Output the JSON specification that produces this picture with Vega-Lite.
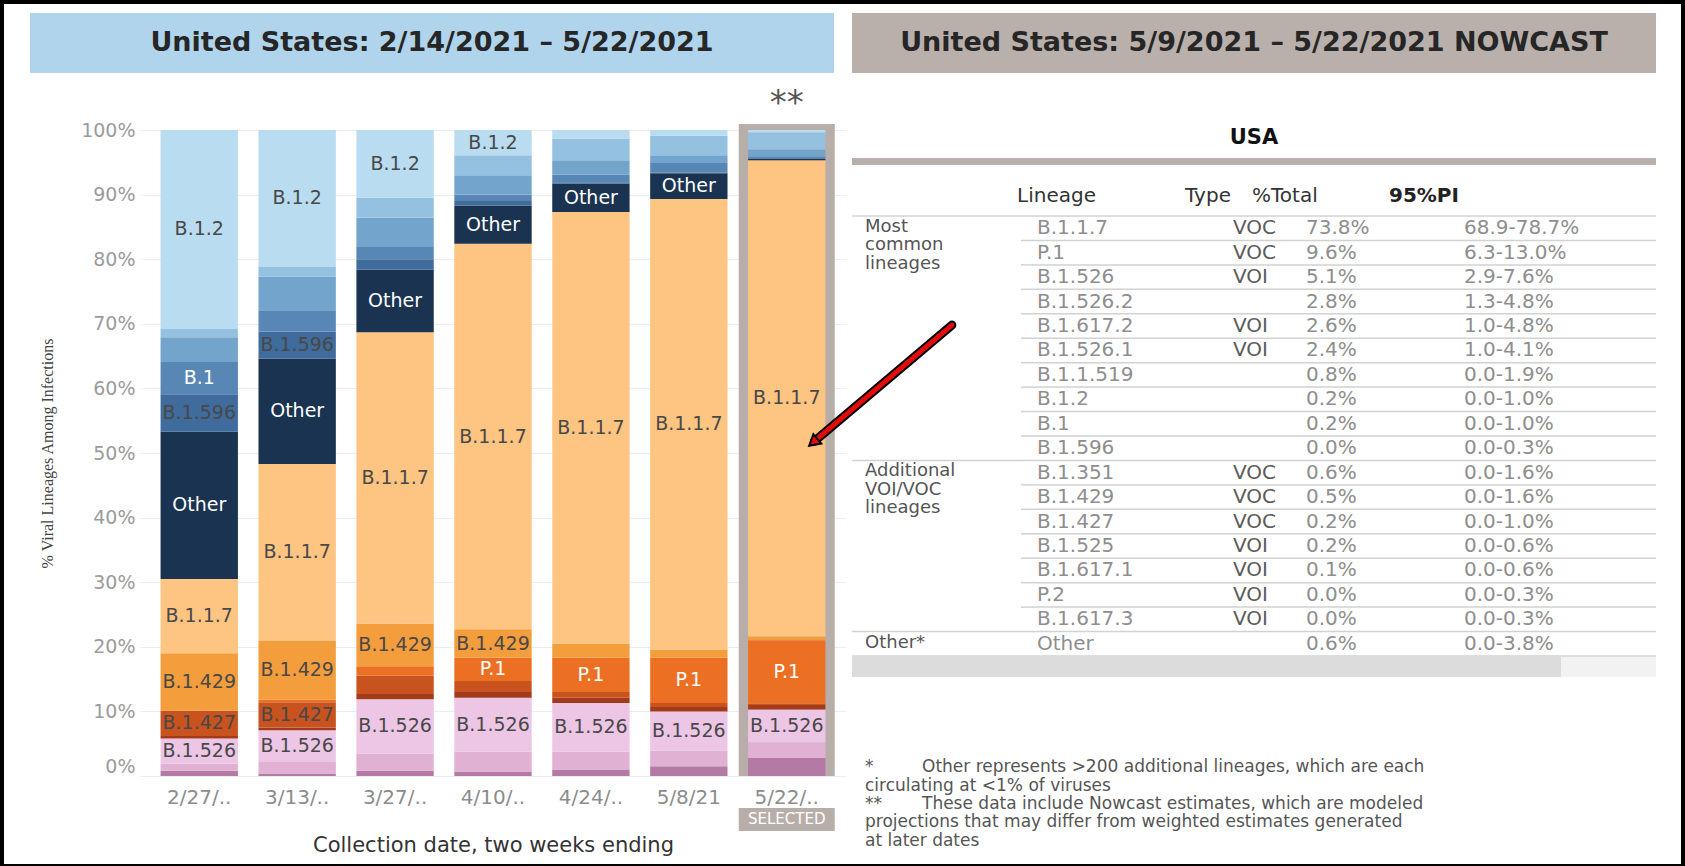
{
  "$schema": "https://vega.github.io/schema/vega-lite/v6.json",
  "padding": 0,
  "background": "white",
  "config": {"view": {"stroke": null}, "font": "DejaVu Sans"},
  "datasets": {
    "bars": [
      {"date": "2/27/21", "lineage": "B.1.526.2", "pct": 0.8}, {"date": "2/27/21", "lineage": "B.1.526.1", "pct": 1.1}, {"date": "2/27/21", "lineage": "B.1.526", "pct": 3.9}, {"date": "2/27/21", "lineage": "B.1.351", "pct": 0.4}, {"date": "2/27/21", "lineage": "B.1.427", "pct": 3.9}, {"date": "2/27/21", "lineage": "P.1", "pct": 0}, {"date": "2/27/21", "lineage": "B.1.429", "pct": 8.9}, {"date": "2/27/21", "lineage": "B.1.1.7", "pct": 11.5}, {"date": "2/27/21", "lineage": "Other", "pct": 22.8}, {"date": "2/27/21", "lineage": "B.1.596", "pct": 5.8}, {"date": "2/27/21", "lineage": "B.1", "pct": 5.0}, {"date": "2/27/21", "lineage": "B.1.243", "pct": 3.8}, {"date": "2/27/21", "lineage": "B.1.1.519", "pct": 1.3}, {"date": "2/27/21", "lineage": "B.1.2", "pct": 30.8},
      {"date": "3/13/21", "lineage": "B.1.526.2", "pct": 0.4}, {"date": "3/13/21", "lineage": "B.1.526.1", "pct": 1.9}, {"date": "3/13/21", "lineage": "B.1.526", "pct": 4.8}, {"date": "3/13/21", "lineage": "B.1.351", "pct": 0.4}, {"date": "3/13/21", "lineage": "B.1.427", "pct": 3.9}, {"date": "3/13/21", "lineage": "P.1", "pct": 0.4}, {"date": "3/13/21", "lineage": "B.1.429", "pct": 9.1}, {"date": "3/13/21", "lineage": "B.1.1.7", "pct": 27.4}, {"date": "3/13/21", "lineage": "Other", "pct": 16.3}, {"date": "3/13/21", "lineage": "B.1.596", "pct": 4.2}, {"date": "3/13/21", "lineage": "B.1", "pct": 3.3}, {"date": "3/13/21", "lineage": "B.1.243", "pct": 5.2}, {"date": "3/13/21", "lineage": "B.1.1.519", "pct": 1.5}, {"date": "3/13/21", "lineage": "B.1.2", "pct": 21.2},
      {"date": "3/27/21", "lineage": "B.1.526.2", "pct": 0.8}, {"date": "3/27/21", "lineage": "B.1.526.1", "pct": 2.7}, {"date": "3/27/21", "lineage": "B.1.526", "pct": 8.4}, {"date": "3/27/21", "lineage": "B.1.351", "pct": 0.8}, {"date": "3/27/21", "lineage": "B.1.427", "pct": 2.8}, {"date": "3/27/21", "lineage": "P.1", "pct": 1.5}, {"date": "3/27/21", "lineage": "B.1.429", "pct": 6.6}, {"date": "3/27/21", "lineage": "B.1.1.7", "pct": 45.1}, {"date": "3/27/21", "lineage": "Other", "pct": 9.7}, {"date": "3/27/21", "lineage": "B.1.596", "pct": 1.6}, {"date": "3/27/21", "lineage": "B.1", "pct": 1.9}, {"date": "3/27/21", "lineage": "B.1.243", "pct": 4.5}, {"date": "3/27/21", "lineage": "B.1.1.519", "pct": 3.1}, {"date": "3/27/21", "lineage": "B.1.2", "pct": 10.5},
      {"date": "4/10/21", "lineage": "B.1.526.2", "pct": 0.7}, {"date": "4/10/21", "lineage": "B.1.526.1", "pct": 3.1}, {"date": "4/10/21", "lineage": "B.1.526", "pct": 8.3}, {"date": "4/10/21", "lineage": "B.1.351", "pct": 0.9}, {"date": "4/10/21", "lineage": "B.1.427", "pct": 1.7}, {"date": "4/10/21", "lineage": "P.1", "pct": 3.6}, {"date": "4/10/21", "lineage": "B.1.429", "pct": 4.4}, {"date": "4/10/21", "lineage": "B.1.1.7", "pct": 59.7}, {"date": "4/10/21", "lineage": "Other", "pct": 5.9}, {"date": "4/10/21", "lineage": "B.1.596", "pct": 0.7}, {"date": "4/10/21", "lineage": "B.1", "pct": 1.0}, {"date": "4/10/21", "lineage": "B.1.243", "pct": 3.0}, {"date": "4/10/21", "lineage": "B.1.1.519", "pct": 3.1}, {"date": "4/10/21", "lineage": "B.1.2", "pct": 3.9},
      {"date": "4/24/21", "lineage": "B.1.526.2", "pct": 1.0}, {"date": "4/24/21", "lineage": "B.1.526.1", "pct": 2.8}, {"date": "4/24/21", "lineage": "B.1.526", "pct": 7.5}, {"date": "4/24/21", "lineage": "B.1.351", "pct": 0.8}, {"date": "4/24/21", "lineage": "B.1.427", "pct": 0.9}, {"date": "4/24/21", "lineage": "P.1", "pct": 5.3}, {"date": "4/24/21", "lineage": "B.1.429", "pct": 2.2}, {"date": "4/24/21", "lineage": "B.1.1.7", "pct": 66.8}, {"date": "4/24/21", "lineage": "Other", "pct": 4.4}, {"date": "4/24/21", "lineage": "B.1.596", "pct": 0.2}, {"date": "4/24/21", "lineage": "B.1", "pct": 1.2}, {"date": "4/24/21", "lineage": "B.1.243", "pct": 2.2}, {"date": "4/24/21", "lineage": "B.1.1.519", "pct": 3.4}, {"date": "4/24/21", "lineage": "B.1.2", "pct": 1.3},
      {"date": "5/8/21", "lineage": "B.1.526.2", "pct": 1.5}, {"date": "5/8/21", "lineage": "B.1.526.1", "pct": 2.4}, {"date": "5/8/21", "lineage": "B.1.526", "pct": 6.1}, {"date": "5/8/21", "lineage": "B.1.351", "pct": 0.7}, {"date": "5/8/21", "lineage": "B.1.427", "pct": 0.6}, {"date": "5/8/21", "lineage": "P.1", "pct": 7.0}, {"date": "5/8/21", "lineage": "B.1.429", "pct": 1.3}, {"date": "5/8/21", "lineage": "B.1.1.7", "pct": 69.7}, {"date": "5/8/21", "lineage": "Other", "pct": 4.0}, {"date": "5/8/21", "lineage": "B.1.596", "pct": 0.1}, {"date": "5/8/21", "lineage": "B.1", "pct": 1.5}, {"date": "5/8/21", "lineage": "B.1.243", "pct": 1.2}, {"date": "5/8/21", "lineage": "B.1.1.519", "pct": 3.0}, {"date": "5/8/21", "lineage": "B.1.2", "pct": 0.9},
      {"date": "5/22/21", "lineage": "B.1.526.2", "pct": 2.8}, {"date": "5/22/21", "lineage": "B.1.526.1", "pct": 2.4}, {"date": "5/22/21", "lineage": "B.1.526", "pct": 5.1}, {"date": "5/22/21", "lineage": "B.1.351", "pct": 0.7}, {"date": "5/22/21", "lineage": "B.1.427", "pct": 0.2}, {"date": "5/22/21", "lineage": "P.1", "pct": 9.8}, {"date": "5/22/21", "lineage": "B.1.429", "pct": 0.6}, {"date": "5/22/21", "lineage": "B.1.1.7", "pct": 73.7}, {"date": "5/22/21", "lineage": "Other", "pct": 0.2}, {"date": "5/22/21", "lineage": "B.1.596", "pct": 0.0}, {"date": "5/22/21", "lineage": "B.1", "pct": 0.4}, {"date": "5/22/21", "lineage": "B.1.243", "pct": 1.1}, {"date": "5/22/21", "lineage": "B.1.1.519", "pct": 2.6}, {"date": "5/22/21", "lineage": "B.1.2", "pct": 0.4}
    ],
    "table": [
      {"group": "Most common lineages", "lineage": "B.1.1.7", "type": "VOC", "total": "73.8%", "pi": "68.9-78.7%"},
      {"group": "", "lineage": "P.1", "type": "VOC", "total": "9.6%", "pi": "6.3-13.0%"},
      {"group": "", "lineage": "B.1.526", "type": "VOI", "total": "5.1%", "pi": "2.9-7.6%"},
      {"group": "", "lineage": "B.1.526.2", "type": "", "total": "2.8%", "pi": "1.3-4.8%"},
      {"group": "", "lineage": "B.1.617.2", "type": "VOI", "total": "2.6%", "pi": "1.0-4.8%"},
      {"group": "", "lineage": "B.1.526.1", "type": "VOI", "total": "2.4%", "pi": "1.0-4.1%"},
      {"group": "", "lineage": "B.1.1.519", "type": "", "total": "0.8%", "pi": "0.0-1.9%"},
      {"group": "", "lineage": "B.1.2", "type": "", "total": "0.2%", "pi": "0.0-1.0%"},
      {"group": "", "lineage": "B.1", "type": "", "total": "0.2%", "pi": "0.0-1.0%"},
      {"group": "", "lineage": "B.1.596", "type": "", "total": "0.0%", "pi": "0.0-0.3%"},
      {"group": "Additional VOI/VOC lineages", "lineage": "B.1.351", "type": "VOC", "total": "0.6%", "pi": "0.0-1.6%"},
      {"group": "", "lineage": "B.1.429", "type": "VOC", "total": "0.5%", "pi": "0.0-1.6%"},
      {"group": "", "lineage": "B.1.427", "type": "VOC", "total": "0.2%", "pi": "0.0-1.0%"},
      {"group": "", "lineage": "B.1.525", "type": "VOI", "total": "0.2%", "pi": "0.0-0.6%"},
      {"group": "", "lineage": "B.1.617.1", "type": "VOI", "total": "0.1%", "pi": "0.0-0.6%"},
      {"group": "", "lineage": "P.2", "type": "VOI", "total": "0.0%", "pi": "0.0-0.3%"},
      {"group": "", "lineage": "B.1.617.3", "type": "VOI", "total": "0.0%", "pi": "0.0-0.3%"},
      {"group": "Other*", "lineage": "Other", "type": "", "total": "0.6%", "pi": "0.0-3.8%"}
    ],
    "notes": [
      {"line": 1, "col": "mark", "text": "*"},
      {"line": 1, "col": "body", "text": "Other represents >200 additional lineages, which are each"},
      {"line": 2, "col": "mark", "text": "circulating at <1% of viruses"},
      {"line": 3, "col": "mark", "text": "**"},
      {"line": 3, "col": "body", "text": "These data include Nowcast estimates, which are modeled"},
      {"line": 4, "col": "mark", "text": "projections that may differ from weighted estimates generated"},
      {"line": 5, "col": "mark", "text": "at later dates"}
    ]
  },
  "spacing": 0,
  "bounds": "full",
  "hconcat": [
    {"width": 4, "height": 866, "view": {"fill": "#000000", "stroke": null}, "data": {"values": []}, "mark": "rect", "encoding": {}},
    {
      "spacing": 0,
      "bounds": "full",
      "vconcat": [
        {"width": 1677, "height": 4, "view": {"fill": "#000000", "stroke": null}, "data": {"values": []}, "mark": "rect", "encoding": {}},
        {"width": 1, "height": 9, "data": {"values": []}, "mark": "rect", "encoding": {}},
        {
          "spacing": 0,
          "bounds": "flush",
          "hconcat": [
            {"width": 26, "height": 60, "data": {"values": []}, "mark": "rect", "encoding": {}},
            {"width": 804, "height": 60, "view": {"fill": "#afd4eb", "stroke": null}, "data": {"values": [{"t": "United States: 2/14/2021 – 5/22/2021"}]}, "mark": {"type": "text", "fontSize": 27, "fontWeight": "bold", "color": "#262626"}, "encoding": {"text": {"field": "t"}}},
            {"width": 18, "height": 60, "data": {"values": []}, "mark": "rect", "encoding": {}},
            {"width": 804, "height": 60, "view": {"fill": "#b9afab", "stroke": null}, "data": {"values": [{"t": "United States: 5/9/2021 – 5/22/2021 NOWCAST"}]}, "mark": {"type": "text", "fontSize": 27, "fontWeight": "bold", "color": "#262626"}, "encoding": {"text": {"field": "t"}}},
            {"width": 25, "height": 60, "data": {"values": []}, "mark": "rect", "encoding": {}}
          ]
        },
        {"width": 1, "height": 7, "data": {"values": []}, "mark": "rect", "encoding": {}},
        {
          "spacing": 0,
          "bounds": "flush",
          "hconcat": [
            {"width": 136, "height": 696, "data": {"values": []}, "mark": "rect", "encoding": {}},
            {
              "width": 706,
              "height": 696,
              "resolve": {"scale": {"x": "independent"}},
              "layer": [
                {
                  "encoding": {
                    "x": {
                      "field": "date", "type": "nominal",
                      "scale": {"domain": ["2/27/21", "3/13/21", "3/27/21", "4/10/21", "4/24/21", "5/8/21", "5/22/21"], "paddingInner": 0.21, "paddingOuter": 0.21},
                      "axis": {"labelAngle": 0, "labelExpr": "length(datum.value) > 6 ? slice(datum.value, 0, 5) + '..' : datum.value", "labelFont": "DejaVu Sans", "labelFontSize": 20, "labelColor": "#8c8c8c", "labelPadding": 11, "ticks": false, "domain": false, "title": "Collection date, two weeks ending", "titleFont": "DejaVu Sans", "titleFontSize": 21, "titleFontWeight": "normal", "titleColor": "#333333", "titlePadding": 27}
                    }
                  },
                  "layer": [
                    {
                      "data": {"values": [{"date": "5/22/21"}]},
                      "mark": {"type": "bar", "color": "#b8aea9", "width": {"band": 1.241}},
                      "encoding": {
                        "y": {"datum": 0, "type": "quantitative", "scale": {"domain": [0, 107.74], "nice": false, "zero": false},
                          "axis": {"values": [0, 10, 20, 30, 40, 50, 60, 70, 80, 90, 100], "labelExpr": "datum.value + '%'", "labelFont": "DejaVu Sans", "labelFontSize": 19, "labelColor": "#9b9b9b", "labelPadding": 5, "labelFlush": true, "ticks": false, "domain": false, "grid": true, "gridColor": "#ececec", "title": "% Viral Lineages Among Infections", "titleFont": "Liberation Serif", "titleFontSize": 16, "titleFontWeight": "normal", "titleColor": "#444444", "titlePadding": 25, "titleY": 373}},
                        "y2": {"datum": 100.93}
                      }
                    },
                    {
                      "data": {"name": "bars"},
                      "transform": [
                        {"calculate": "indexof(['B.1.526.2','B.1.526.1','B.1.526','B.1.351','B.1.427','P.1','B.1.429','B.1.1.7','Other','B.1.596','B.1','B.1.243','B.1.1.519','B.1.2'], datum.lineage)", "as": "k"},
                        {"stack": "pct", "groupby": ["date"], "sort": [{"field": "k", "order": "ascending"}], "as": ["y0", "y1"]}
                      ],
                      "mark": {"type": "bar"},
                      "encoding": {
                        "y": {"field": "y0", "type": "quantitative", "scale": {"domain": [0, 107.74], "nice": false, "zero": false},
                          "axis": {"values": [0, 10, 20, 30, 40, 50, 60, 70, 80, 90, 100], "labelExpr": "datum.value + '%'", "labelFont": "DejaVu Sans", "labelFontSize": 19, "labelColor": "#9b9b9b", "labelPadding": 5, "labelFlush": true, "ticks": false, "domain": false, "grid": true, "gridColor": "#ececec", "title": "% Viral Lineages Among Infections", "titleFont": "Liberation Serif", "titleFontSize": 16, "titleFontWeight": "normal", "titleColor": "#444444", "titlePadding": 25, "titleY": 373}},
                        "y2": {"field": "y1"},
                        "color": {"field": "lineage", "type": "nominal", "legend": null,
                          "scale": {"domain": ["B.1.526.2", "B.1.526.1", "B.1.526", "B.1.351", "B.1.427", "P.1", "B.1.429", "B.1.1.7", "Other", "B.1.596", "B.1", "B.1.243", "B.1.1.519", "B.1.2"],
                            "range": ["#b47aa5", "#e0b1d2", "#edc6e5", "#a33a1a", "#c8531f", "#ec7023", "#f39d3d", "#fec481", "#1a3350", "#3f6c9d", "#5887b6", "#73a4cb", "#95c1e0", "#badcf0"]}}
                      }
                    },
                    {
                      "data": {"name": "bars"},
                      "transform": [
                        {"calculate": "indexof(['B.1.526.2','B.1.526.1','B.1.526','B.1.351','B.1.427','P.1','B.1.429','B.1.1.7','Other','B.1.596','B.1','B.1.243','B.1.1.519','B.1.2'], datum.lineage)", "as": "k"},
                        {"stack": "pct", "groupby": ["date"], "sort": [{"field": "k", "order": "ascending"}], "as": ["y0", "y1"]},
                        {"filter": "indexof(['B.1.2','B.1','B.1.596','Other','B.1.1.7','B.1.429','B.1.427','P.1','B.1.526'], datum.lineage) >= 0 && datum.pct >= 3.5"},
                        {"calculate": "(datum.y0 + datum.y1) / 2", "as": "mid"}
                      ],
                      "mark": {"type": "text", "fontSize": 19, "font": "DejaVu Sans"},
                      "encoding": {
                        "y": {"field": "mid", "type": "quantitative", "scale": {"domain": [0, 107.74], "nice": false, "zero": false},
                          "axis": {"values": [0, 10, 20, 30, 40, 50, 60, 70, 80, 90, 100], "labelExpr": "datum.value + '%'", "labelFont": "DejaVu Sans", "labelFontSize": 19, "labelColor": "#9b9b9b", "labelPadding": 5, "labelFlush": true, "ticks": false, "domain": false, "grid": true, "gridColor": "#ececec", "title": "% Viral Lineages Among Infections", "titleFont": "Liberation Serif", "titleFontSize": 16, "titleFontWeight": "normal", "titleColor": "#444444", "titlePadding": 25, "titleY": 373}},
                        "text": {"field": "lineage"},
                        "color": {"condition": {"test": "indexof(['Other','B.1','P.1'], datum.lineage) >= 0", "value": "#ffffff"}, "value": "#484848"}
                      }
                    },
                    {
                      "data": {"values": [{"date": "5/22/21"}]},
                      "mark": {"type": "text", "text": "**", "fontSize": 34, "color": "#555555", "baseline": "alphabetic"},
                      "encoding": {"y": {"datum": 102.4, "type": "quantitative", "scale": {"domain": [0, 107.74], "nice": false, "zero": false},
                          "axis": {"values": [0, 10, 20, 30, 40, 50, 60, 70, 80, 90, 100], "labelExpr": "datum.value + '%'", "labelFont": "DejaVu Sans", "labelFontSize": 19, "labelColor": "#9b9b9b", "labelPadding": 5, "labelFlush": true, "ticks": false, "domain": false, "grid": true, "gridColor": "#ececec", "title": "% Viral Lineages Among Infections", "titleFont": "Liberation Serif", "titleFontSize": 16, "titleFontWeight": "normal", "titleColor": "#444444", "titlePadding": 25, "titleY": 373}}}
                    },
                    {
                      "data": {"values": [{"date": "5/22/21"}]},
                      "mark": {"type": "bar", "color": "#b8aea9", "width": {"band": 1.241}},
                      "encoding": {"y": {"datum": -4.95, "type": "quantitative", "scale": {"domain": [0, 107.74], "nice": false, "zero": false},
                          "axis": {"values": [0, 10, 20, 30, 40, 50, 60, 70, 80, 90, 100], "labelExpr": "datum.value + '%'", "labelFont": "DejaVu Sans", "labelFontSize": 19, "labelColor": "#9b9b9b", "labelPadding": 5, "labelFlush": true, "ticks": false, "domain": false, "grid": true, "gridColor": "#ececec", "title": "% Viral Lineages Among Infections", "titleFont": "Liberation Serif", "titleFontSize": 16, "titleFontWeight": "normal", "titleColor": "#444444", "titlePadding": 25, "titleY": 373}},
                        "y2": {"datum": -8.51}}
                    },
                    {
                      "data": {"values": [{"date": "5/22/21"}]},
                      "mark": {"type": "text", "text": "SELECTED", "fontSize": 15, "color": "#ffffff"},
                      "encoding": {"y": {"datum": -6.73, "type": "quantitative", "scale": {"domain": [0, 107.74], "nice": false, "zero": false},
                          "axis": {"values": [0, 10, 20, 30, 40, 50, 60, 70, 80, 90, 100], "labelExpr": "datum.value + '%'", "labelFont": "DejaVu Sans", "labelFontSize": 19, "labelColor": "#9b9b9b", "labelPadding": 5, "labelFlush": true, "ticks": false, "domain": false, "grid": true, "gridColor": "#ececec", "title": "% Viral Lineages Among Infections", "titleFont": "Liberation Serif", "titleFontSize": 16, "titleFontWeight": "normal", "titleColor": "#444444", "titlePadding": 25, "titleY": 373}}}
                    }
                  ]
                },
                {
                  "data": {"values": [{}]},
                  "layer": [
                    {
                      "mark": {"type": "rule", "color": "#000000", "strokeWidth": 9, "strokeCap": "round"},
                      "encoding": {
                        "x": {"datum": 115.0, "type": "quantitative", "scale": {"domain": [0, 100], "nice": false, "zero": false}, "axis": null},
                        "x2": {"datum": 95.55},
                        "y": {"datum": 69.8, "type": "quantitative", "scale": {"domain": [0, 107.74], "nice": false, "zero": false},
                          "axis": {"values": [0, 10, 20, 30, 40, 50, 60, 70, 80, 90, 100], "labelExpr": "datum.value + '%'", "labelFont": "DejaVu Sans", "labelFontSize": 19, "labelColor": "#9b9b9b", "labelPadding": 5, "labelFlush": true, "ticks": false, "domain": false, "grid": true, "gridColor": "#ececec", "title": "% Viral Lineages Among Infections", "titleFont": "Liberation Serif", "titleFontSize": 16, "titleFontWeight": "normal", "titleColor": "#444444", "titlePadding": 25, "titleY": 373}},
                        "y2": {"datum": 51.84}
                      }
                    },
                    {
                      "mark": {"type": "rule", "color": "#e30c0c", "strokeWidth": 5, "strokeCap": "round"},
                      "encoding": {
                        "x": {"datum": 115.0, "type": "quantitative", "scale": {"domain": [0, 100], "nice": false, "zero": false}, "axis": null},
                        "x2": {"datum": 95.55},
                        "y": {"datum": 69.8, "type": "quantitative", "scale": {"domain": [0, 107.74], "nice": false, "zero": false},
                          "axis": {"values": [0, 10, 20, 30, 40, 50, 60, 70, 80, 90, 100], "labelExpr": "datum.value + '%'", "labelFont": "DejaVu Sans", "labelFontSize": 19, "labelColor": "#9b9b9b", "labelPadding": 5, "labelFlush": true, "ticks": false, "domain": false, "grid": true, "gridColor": "#ececec", "title": "% Viral Lineages Among Infections", "titleFont": "Liberation Serif", "titleFontSize": 16, "titleFontWeight": "normal", "titleColor": "#444444", "titlePadding": 25, "titleY": 373}},
                        "y2": {"datum": 51.84}
                      }
                    },
                    {
                      "mark": {"type": "point", "shape": "triangle", "filled": true, "fill": "#e30c0c", "stroke": "#000000", "strokeWidth": 2, "size": 150, "angle": 230, "opacity": 1},
                      "encoding": {
                        "x": {"datum": 95.55, "type": "quantitative", "scale": {"domain": [0, 100], "nice": false, "zero": false}, "axis": null},
                        "y": {"datum": 51.84, "type": "quantitative", "scale": {"domain": [0, 107.74], "nice": false, "zero": false},
                          "axis": {"values": [0, 10, 20, 30, 40, 50, 60, 70, 80, 90, 100], "labelExpr": "datum.value + '%'", "labelFont": "DejaVu Sans", "labelFontSize": 19, "labelColor": "#9b9b9b", "labelPadding": 5, "labelFlush": true, "ticks": false, "domain": false, "grid": true, "gridColor": "#ececec", "title": "% Viral Lineages Among Infections", "titleFont": "Liberation Serif", "titleFontSize": 16, "titleFontWeight": "normal", "titleColor": "#444444", "titlePadding": 25, "titleY": 373}}
                      }
                    }
                  ]
                }
              ]
            },
            {"width": 6, "height": 696, "data": {"values": []}, "mark": "rect", "encoding": {}},
            {
              "spacing": 0,
              "bounds": "full",
              "vconcat": [
                {"width": 1, "height": 44, "data": {"values": []}, "mark": "rect", "encoding": {}},
                {"width": 804, "height": 28, "data": {"values": [{"t": "USA"}]}, "mark": {"type": "text", "fontSize": 21, "fontWeight": "bold", "color": "#111111"}, "encoding": {"text": {"field": "t"}}},
                {"width": 1, "height": 6, "data": {"values": []}, "mark": "rect", "encoding": {}},
                {"width": 804, "height": 7, "view": {"fill": "#b9afab", "stroke": null}, "data": {"values": []}, "mark": "rect", "encoding": {}},
                {
                  "spacing": 0,
                  "bounds": "flush",
                  "hconcat": [
                    {"width": 165, "height": 50, "data": {"values": []}, "mark": "rect", "encoding": {}},
                    {"width": 168, "height": 50, "data": {"values": [{"t": "Lineage"}]}, "mark": {"type": "text", "align": "left", "fontSize": 20, "color": "#333333", "dy": 6}, "encoding": {"x": {"datum": "c", "type": "nominal", "scale": {"type": "band", "paddingInner": 0, "paddingOuter": 0}, "bandPosition": 0, "axis": null}, "text": {"field": "t"}}},
                    {"width": 67, "height": 50, "data": {"values": [{"t": "Type"}]}, "mark": {"type": "text", "align": "left", "fontSize": 20, "color": "#333333", "dy": 6}, "encoding": {"x": {"datum": "c", "type": "nominal", "scale": {"type": "band", "paddingInner": 0, "paddingOuter": 0}, "bandPosition": 0, "axis": null}, "text": {"field": "t"}}},
                    {"width": 137, "height": 50, "data": {"values": [{"t": "%Total"}]}, "mark": {"type": "text", "align": "left", "fontSize": 20, "color": "#333333", "dy": 6}, "encoding": {"x": {"datum": "c", "type": "nominal", "scale": {"type": "band", "paddingInner": 0, "paddingOuter": 0}, "bandPosition": 0, "axis": null}, "text": {"field": "t"}}},
                    {"width": 267, "height": 50, "data": {"values": [{"t": "95%PI"}]}, "mark": {"type": "text", "align": "left", "fontSize": 20, "fontWeight": "bold", "color": "#222222", "dy": 6}, "encoding": {"x": {"datum": "c", "type": "nominal", "scale": {"type": "band", "paddingInner": 0, "paddingOuter": 0}, "bandPosition": 0, "axis": null}, "text": {"field": "t"}}}
                  ]
                },
                {
                  "spacing": 0,
                  "bounds": "flush",
                  "hconcat": [
                    {
                      "width": 169, "height": 440, "data": {"name": "table"},
                      "layer": [
                        {"transform": [{"filter": "datum.group != ''"}], "mark": {"type": "rule", "color": "#d2d2d2", "strokeWidth": 1.5}, "encoding": {"y": {"field": "lineage", "type": "nominal", "bandPosition": 0, "axis": null, "scale": {"type": "band", "paddingInner": 0, "paddingOuter": 0, "domain": ["B.1.1.7", "P.1", "B.1.526", "B.1.526.2", "B.1.617.2", "B.1.526.1", "B.1.1.519", "B.1.2", "B.1", "B.1.596", "B.1.351", "B.1.429", "B.1.427", "B.1.525", "B.1.617.1", "P.2", "B.1.617.3", "Other"]}}}},
                        {"transform": [{"filter": "datum.lineage == 'Other'"}], "mark": {"type": "rule", "color": "#d2d2d2", "strokeWidth": 1.5}, "encoding": {"y": {"field": "lineage", "type": "nominal", "bandPosition": 1, "axis": null, "scale": {"type": "band", "paddingInner": 0, "paddingOuter": 0, "domain": ["B.1.1.7", "P.1", "B.1.526", "B.1.526.2", "B.1.617.2", "B.1.526.1", "B.1.1.519", "B.1.2", "B.1", "B.1.596", "B.1.351", "B.1.429", "B.1.427", "B.1.525", "B.1.617.1", "P.2", "B.1.617.3", "Other"]}}}},
                        {"transform": [{"filter": "datum.group != ''"}], "mark": {"type": "text", "align": "left", "baseline": "top", "lineBreak": " ", "lineHeight": 18.4, "fontSize": 18, "color": "#555555", "dx": 13, "dy": 2},
                          "encoding": {"x": {"datum": "c", "type": "nominal", "scale": {"type": "band", "paddingInner": 0, "paddingOuter": 0}, "bandPosition": 0, "axis": null}, "y": {"field": "lineage", "type": "nominal", "bandPosition": 0, "axis": null, "scale": {"type": "band", "paddingInner": 0, "paddingOuter": 0, "domain": ["B.1.1.7", "P.1", "B.1.526", "B.1.526.2", "B.1.617.2", "B.1.526.1", "B.1.1.519", "B.1.2", "B.1", "B.1.596", "B.1.351", "B.1.429", "B.1.427", "B.1.525", "B.1.617.1", "P.2", "B.1.617.3", "Other"]}}, "text": {"field": "group"}}}
                      ]
                    },
                    {
                      "width": 16, "height": 440, "data": {"name": "table"},
                      "layer": [
                        {"mark": {"type": "rule", "color": "#d2d2d2", "strokeWidth": 1.5}, "encoding": {"y": {"field": "lineage", "type": "nominal", "bandPosition": 0, "axis": null, "scale": {"type": "band", "paddingInner": 0, "paddingOuter": 0, "domain": ["B.1.1.7", "P.1", "B.1.526", "B.1.526.2", "B.1.617.2", "B.1.526.1", "B.1.1.519", "B.1.2", "B.1", "B.1.596", "B.1.351", "B.1.429", "B.1.427", "B.1.525", "B.1.617.1", "P.2", "B.1.617.3", "Other"]}}}},
                        {"transform": [{"filter": "datum.lineage == 'Other'"}], "mark": {"type": "rule", "color": "#d2d2d2", "strokeWidth": 1.5}, "encoding": {"y": {"field": "lineage", "type": "nominal", "bandPosition": 1, "axis": null, "scale": {"type": "band", "paddingInner": 0, "paddingOuter": 0, "domain": ["B.1.1.7", "P.1", "B.1.526", "B.1.526.2", "B.1.617.2", "B.1.526.1", "B.1.1.519", "B.1.2", "B.1", "B.1.596", "B.1.351", "B.1.429", "B.1.427", "B.1.525", "B.1.617.1", "P.2", "B.1.617.3", "Other"]}}}}
                      ]
                    },
                    {
                      "width": 196, "height": 440, "data": {"name": "table"},
                      "layer": [
                        {"mark": {"type": "rule", "color": "#d2d2d2", "strokeWidth": 1.5}, "encoding": {"y": {"field": "lineage", "type": "nominal", "bandPosition": 0, "axis": null, "scale": {"type": "band", "paddingInner": 0, "paddingOuter": 0, "domain": ["B.1.1.7", "P.1", "B.1.526", "B.1.526.2", "B.1.617.2", "B.1.526.1", "B.1.1.519", "B.1.2", "B.1", "B.1.596", "B.1.351", "B.1.429", "B.1.427", "B.1.525", "B.1.617.1", "P.2", "B.1.617.3", "Other"]}}}},
                        {"transform": [{"filter": "datum.lineage == 'Other'"}], "mark": {"type": "rule", "color": "#d2d2d2", "strokeWidth": 1.5}, "encoding": {"y": {"field": "lineage", "type": "nominal", "bandPosition": 1, "axis": null, "scale": {"type": "band", "paddingInner": 0, "paddingOuter": 0, "domain": ["B.1.1.7", "P.1", "B.1.526", "B.1.526.2", "B.1.617.2", "B.1.526.1", "B.1.1.519", "B.1.2", "B.1", "B.1.596", "B.1.351", "B.1.429", "B.1.427", "B.1.525", "B.1.617.1", "P.2", "B.1.617.3", "Other"]}}}},
                        {"mark": {"type": "text", "align": "left", "fontSize": 20, "color": "#8e8e8e"}, "encoding": {"x": {"datum": "c", "type": "nominal", "scale": {"type": "band", "paddingInner": 0, "paddingOuter": 0}, "bandPosition": 0, "axis": null}, "y": {"field": "lineage", "type": "nominal", "axis": null, "scale": {"type": "band", "paddingInner": 0, "paddingOuter": 0, "domain": ["B.1.1.7", "P.1", "B.1.526", "B.1.526.2", "B.1.617.2", "B.1.526.1", "B.1.1.519", "B.1.2", "B.1", "B.1.596", "B.1.351", "B.1.429", "B.1.427", "B.1.525", "B.1.617.1", "P.2", "B.1.617.3", "Other"]}}, "text": {"field": "lineage"}}}
                      ]
                    },
                    {
                      "width": 73, "height": 440, "data": {"name": "table"},
                      "layer": [
                        {"mark": {"type": "rule", "color": "#d2d2d2", "strokeWidth": 1.5}, "encoding": {"y": {"field": "lineage", "type": "nominal", "bandPosition": 0, "axis": null, "scale": {"type": "band", "paddingInner": 0, "paddingOuter": 0, "domain": ["B.1.1.7", "P.1", "B.1.526", "B.1.526.2", "B.1.617.2", "B.1.526.1", "B.1.1.519", "B.1.2", "B.1", "B.1.596", "B.1.351", "B.1.429", "B.1.427", "B.1.525", "B.1.617.1", "P.2", "B.1.617.3", "Other"]}}}},
                        {"transform": [{"filter": "datum.lineage == 'Other'"}], "mark": {"type": "rule", "color": "#d2d2d2", "strokeWidth": 1.5}, "encoding": {"y": {"field": "lineage", "type": "nominal", "bandPosition": 1, "axis": null, "scale": {"type": "band", "paddingInner": 0, "paddingOuter": 0, "domain": ["B.1.1.7", "P.1", "B.1.526", "B.1.526.2", "B.1.617.2", "B.1.526.1", "B.1.1.519", "B.1.2", "B.1", "B.1.596", "B.1.351", "B.1.429", "B.1.427", "B.1.525", "B.1.617.1", "P.2", "B.1.617.3", "Other"]}}}},
                        {"mark": {"type": "text", "align": "left", "fontSize": 20, "color": "#5c5c5c"}, "encoding": {"x": {"datum": "c", "type": "nominal", "scale": {"type": "band", "paddingInner": 0, "paddingOuter": 0}, "bandPosition": 0, "axis": null}, "y": {"field": "lineage", "type": "nominal", "axis": null, "scale": {"type": "band", "paddingInner": 0, "paddingOuter": 0, "domain": ["B.1.1.7", "P.1", "B.1.526", "B.1.526.2", "B.1.617.2", "B.1.526.1", "B.1.1.519", "B.1.2", "B.1", "B.1.596", "B.1.351", "B.1.429", "B.1.427", "B.1.525", "B.1.617.1", "P.2", "B.1.617.3", "Other"]}}, "text": {"field": "type"}}}
                      ]
                    },
                    {
                      "width": 158, "height": 440, "data": {"name": "table"},
                      "layer": [
                        {"mark": {"type": "rule", "color": "#d2d2d2", "strokeWidth": 1.5}, "encoding": {"y": {"field": "lineage", "type": "nominal", "bandPosition": 0, "axis": null, "scale": {"type": "band", "paddingInner": 0, "paddingOuter": 0, "domain": ["B.1.1.7", "P.1", "B.1.526", "B.1.526.2", "B.1.617.2", "B.1.526.1", "B.1.1.519", "B.1.2", "B.1", "B.1.596", "B.1.351", "B.1.429", "B.1.427", "B.1.525", "B.1.617.1", "P.2", "B.1.617.3", "Other"]}}}},
                        {"transform": [{"filter": "datum.lineage == 'Other'"}], "mark": {"type": "rule", "color": "#d2d2d2", "strokeWidth": 1.5}, "encoding": {"y": {"field": "lineage", "type": "nominal", "bandPosition": 1, "axis": null, "scale": {"type": "band", "paddingInner": 0, "paddingOuter": 0, "domain": ["B.1.1.7", "P.1", "B.1.526", "B.1.526.2", "B.1.617.2", "B.1.526.1", "B.1.1.519", "B.1.2", "B.1", "B.1.596", "B.1.351", "B.1.429", "B.1.427", "B.1.525", "B.1.617.1", "P.2", "B.1.617.3", "Other"]}}}},
                        {"mark": {"type": "text", "align": "left", "fontSize": 20, "color": "#8e8e8e"}, "encoding": {"x": {"datum": "c", "type": "nominal", "scale": {"type": "band", "paddingInner": 0, "paddingOuter": 0}, "bandPosition": 0, "axis": null}, "y": {"field": "lineage", "type": "nominal", "axis": null, "scale": {"type": "band", "paddingInner": 0, "paddingOuter": 0, "domain": ["B.1.1.7", "P.1", "B.1.526", "B.1.526.2", "B.1.617.2", "B.1.526.1", "B.1.1.519", "B.1.2", "B.1", "B.1.596", "B.1.351", "B.1.429", "B.1.427", "B.1.525", "B.1.617.1", "P.2", "B.1.617.3", "Other"]}}, "text": {"field": "total"}}}
                      ]
                    },
                    {
                      "width": 192, "height": 440, "data": {"name": "table"},
                      "layer": [
                        {"mark": {"type": "rule", "color": "#d2d2d2", "strokeWidth": 1.5}, "encoding": {"y": {"field": "lineage", "type": "nominal", "bandPosition": 0, "axis": null, "scale": {"type": "band", "paddingInner": 0, "paddingOuter": 0, "domain": ["B.1.1.7", "P.1", "B.1.526", "B.1.526.2", "B.1.617.2", "B.1.526.1", "B.1.1.519", "B.1.2", "B.1", "B.1.596", "B.1.351", "B.1.429", "B.1.427", "B.1.525", "B.1.617.1", "P.2", "B.1.617.3", "Other"]}}}},
                        {"transform": [{"filter": "datum.lineage == 'Other'"}], "mark": {"type": "rule", "color": "#d2d2d2", "strokeWidth": 1.5}, "encoding": {"y": {"field": "lineage", "type": "nominal", "bandPosition": 1, "axis": null, "scale": {"type": "band", "paddingInner": 0, "paddingOuter": 0, "domain": ["B.1.1.7", "P.1", "B.1.526", "B.1.526.2", "B.1.617.2", "B.1.526.1", "B.1.1.519", "B.1.2", "B.1", "B.1.596", "B.1.351", "B.1.429", "B.1.427", "B.1.525", "B.1.617.1", "P.2", "B.1.617.3", "Other"]}}}},
                        {"mark": {"type": "text", "align": "left", "fontSize": 20, "color": "#8e8e8e"}, "encoding": {"x": {"datum": "c", "type": "nominal", "scale": {"type": "band", "paddingInner": 0, "paddingOuter": 0}, "bandPosition": 0, "axis": null}, "y": {"field": "lineage", "type": "nominal", "axis": null, "scale": {"type": "band", "paddingInner": 0, "paddingOuter": 0, "domain": ["B.1.1.7", "P.1", "B.1.526", "B.1.526.2", "B.1.617.2", "B.1.526.1", "B.1.1.519", "B.1.2", "B.1", "B.1.596", "B.1.351", "B.1.429", "B.1.427", "B.1.525", "B.1.617.1", "P.2", "B.1.617.3", "Other"]}}, "text": {"field": "pi"}}}
                      ]
                    }
                  ]
                },
                {
                  "spacing": 0,
                  "bounds": "flush",
                  "hconcat": [
                    {"width": 709, "height": 20, "view": {"fill": "#dcdcdc", "stroke": null}, "data": {"values": []}, "mark": "rect", "encoding": {}},
                    {"width": 95, "height": 20, "view": {"fill": "#f2f2f2", "stroke": null}, "data": {"values": []}, "mark": "rect", "encoding": {}}
                  ]
                },
                {"width": 1, "height": 81, "data": {"values": []}, "mark": "rect", "encoding": {}},
                {
                  "spacing": 0,
                  "bounds": "flush",
                  "hconcat": [
                    {"width": 70, "height": 92, "data": {"name": "notes"}, "transform": [{"filter": "datum.col == 'mark'"}],
                      "mark": {"type": "text", "align": "left", "fontSize": 17, "color": "#555555", "dx": 13},
                      "encoding": {"x": {"datum": "c", "type": "nominal", "scale": {"type": "band", "paddingInner": 0, "paddingOuter": 0}, "bandPosition": 0, "axis": null}, "y": {"field": "line", "type": "ordinal", "axis": null, "scale": {"type": "band", "domain": [1, 2, 3, 4, 5], "paddingInner": 0, "paddingOuter": 0}}, "text": {"field": "text"}}},
                    {"width": 734, "height": 92, "data": {"name": "notes"}, "transform": [{"filter": "datum.col == 'body'"}],
                      "mark": {"type": "text", "align": "left", "fontSize": 17, "color": "#555555"},
                      "encoding": {"x": {"datum": "c", "type": "nominal", "scale": {"type": "band", "paddingInner": 0, "paddingOuter": 0}, "bandPosition": 0, "axis": null}, "y": {"field": "line", "type": "ordinal", "axis": null, "scale": {"type": "band", "domain": [1, 2, 3, 4, 5], "paddingInner": 0, "paddingOuter": 0}}, "text": {"field": "text"}}}
                  ]
                },
                {"width": 1, "height": 14, "data": {"values": []}, "mark": "rect", "encoding": {}}
              ]
            }
          ]
        },
        {"width": 1677, "height": 4, "view": {"fill": "#000000", "stroke": null}, "data": {"values": []}, "mark": "rect", "encoding": {}}
      ]
    },
    {"width": 4, "height": 866, "view": {"fill": "#000000", "stroke": null}, "data": {"values": []}, "mark": "rect", "encoding": {}}
  ]
}
